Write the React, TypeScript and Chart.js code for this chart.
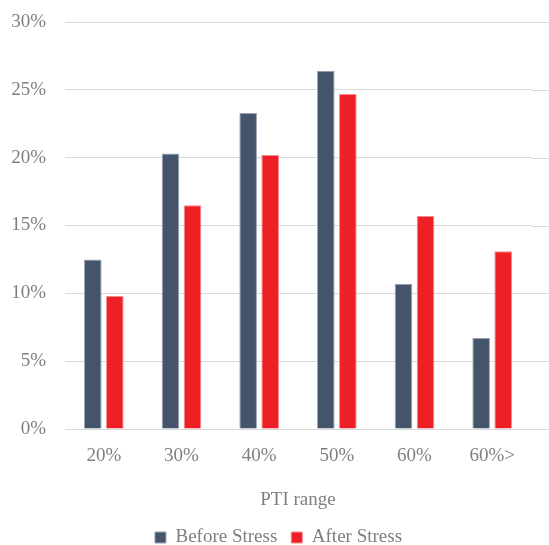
import React, { useEffect, useRef } from "react";
import { Chart, registerables } from "chart.js";

Chart.register(...registerables);

const categories = ["20%", "30%", "40%", "50%", "60%", "60%>"];
const beforeStress = [12.5, 20.3, 23.3, 26.4, 10.7, 6.7];
const afterStress = [9.8, 16.5, 20.2, 24.7, 15.7, 13.1];
const yTicks = [0, 5, 10, 15, 20, 25, 30];

const FONT = "'Liberation Serif', 'DejaVu Serif', serif";
const TEXT = "#7f7f7f";
const GRID = "#d9d9d9";
const FS = 19;

const extendGrid = {
  id: "extendGrid",
  afterLayout(chart: any) {
    const l = chart.legend;
    if (l) {
      l.left += 8;
      l.right += 8;
    }
  },
  beforeDatasetsDraw(chart: any) {
    const { ctx, chartArea, scales } = chart;
    const y = scales.y;
    ctx.save();
    ctx.strokeStyle = GRID;
    ctx.lineWidth = 1;
    yTicks.forEach((v) => {
      const py = Math.round(y.getPixelForValue(v)) + 0.5;
      ctx.beginPath();
      ctx.moveTo(chartArea.right, py);
      ctx.lineTo(chart.width, py);
      ctx.stroke();
    });
    ctx.restore();
  },
};

export default function App() {
  const ref = useRef<HTMLCanvasElement | null>(null);
  useEffect(() => {
    if (!ref.current) return;
    const chart = new Chart(ref.current, {
      type: "bar",
      data: {
        labels: categories,
        datasets: [
          {
            label: "Before Stress",
            data: beforeStress,
            backgroundColor: "#44546a",
            borderColor: "#9aa3b0",
            borderWidth: 1,
            barPercentage: 0.8,
            categoryPercentage: 0.567,
          },
          {
            label: "After Stress",
            data: afterStress,
            backgroundColor: "#ee1f25",
            borderColor: "#f58a8d",
            borderWidth: 1,
            barPercentage: 0.8,
            categoryPercentage: 0.567,
          },
        ],
      },
      options: {
        animation: false,
        responsive: false,
        maintainAspectRatio: false,
        layout: { autoPadding: false, padding: { top: 22, left: 10, right: 18, bottom: 0 } },
        plugins: {
          legend: {
            position: "bottom",
            labels: {
              font: { family: FONT, size: FS },
              color: TEXT,
              boxWidth: 11,
              boxHeight: 11,
              padding: 14,
            },
          },
          tooltip: { enabled: false },
        },
        scales: {
          x: {
            grid: { display: false, drawTicks: false },
            border: { display: false },
            afterFit: (s: any) => {
              s.height = 85;
              s.paddingLeft = 0;
              s.paddingRight = 0;
            },
            ticks: {
              font: { family: FONT, size: FS },
              color: TEXT,
              padding: 16,
            },
            title: {
              display: true,
              text: "PTI range",
              font: { family: FONT, size: FS },
              color: TEXT,
              padding: { top: 18, bottom: 3 },
            },
          },
          y: {
            min: 0,
            max: 30,
            afterBuildTicks: (axis: any) => {
              axis.ticks = yTicks.map((v) => ({ value: v }));
            },
            afterFit: (s: any) => {
              s.width = 55;
              s.paddingTop = 0;
              s.paddingBottom = 0;
            },
            grid: { color: GRID, drawTicks: false },
            border: { display: false },
            ticks: {
              font: { family: FONT, size: FS },
              color: TEXT,
              padding: 19,
              callback: (v: any) => v + "%",
            },
          },
        },
      },
      plugins: [extendGrid],
    });
    return () => chart.destroy();
  }, []);
  return (
    <div style={{ position: "fixed", left: 0, top: 0, width: 549, height: 545, overflow: "hidden", background: "#fff" }}>
      <canvas ref={ref} width={549} height={557} style={{ display: "block" }} />
    </div>
  );
}
